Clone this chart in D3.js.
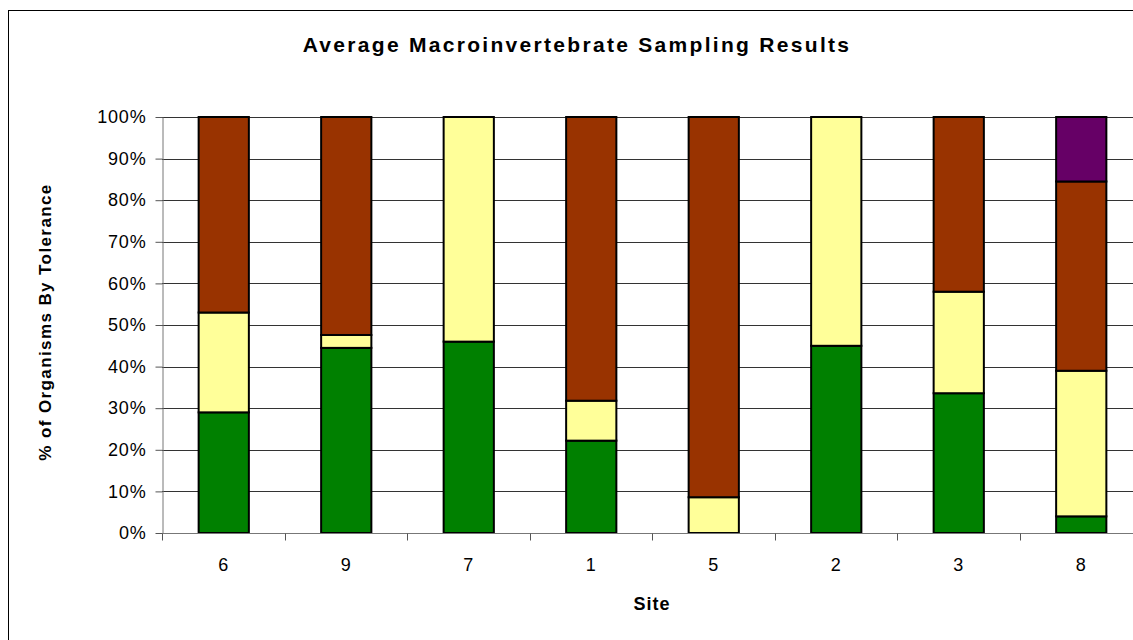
<!DOCTYPE html>
<html>
<head>
<meta charset="utf-8">
<script src="https://cdn.jsdelivr.net/npm/d3@7"></script>
<style>
  body { margin: 0; background: #fff; overflow: hidden; }
  svg { display: block; font-family: "Liberation Sans", Arial, sans-serif; }
</style>
</head>
<body>
<div id="chart"></div>
<script>
// sites, in the order shown
const sites = ["6", "9", "7", "1", "5", "2", "3", "8"];

// percentage of organisms per tolerance group
const intolerant = [29, 44.5, 46, 22.2, 0, 45, 33.6, 4];
const facultative = [24, 3.1, 54, 9.6, 8.6, 55, 24.4, 35];
const tolerant = [47, 52.4, 0, 68.2, 91.4, 0, 42, 45.5];
const veryTolerant = [0, 0, 0, 0, 0, 0, 0, 15.5];

const yTicks = [0, 10, 20, 30, 40, 50, 60, 70, 80, 90, 100];

const seriesNames = ["intolerant", "facultative", "tolerant", "veryTolerant"];
const seriesColors = ["#008000", "#FFFF99", "#993300", "#660066"];

// build the table the stack wants
const rows = sites.map((s, i) => ({
  site: s,
  intolerant: intolerant[i],
  facultative: facultative[i],
  tolerant: tolerant[i],
  veryTolerant: veryTolerant[i]
}));

const W = 1133, H = 640;
// the plot runs a little past the right edge of the picture
const margin = {top: 117, right: -9, bottom: 107, left: 162};
const width = W - margin.left - margin.right;
const height = H - margin.top - margin.bottom;

const svg = d3.select("#chart").append("svg")
  .attr("width", W)
  .attr("height", H);

// chart outline
svg.append("rect")
  .attr("x", 8.5).attr("y", 10.5)
  .attr("width", W).attr("height", H)
  .attr("fill", "none")
  .attr("stroke", "#000")
  .attr("stroke-width", 1);

const g = svg.append("g").attr("transform", `translate(${margin.left},${margin.top})`);

const x = d3.scaleBand().domain(sites).range([0, width]).paddingInner(0.59).paddingOuter(0.295);
const xTick = d3.scaleBand().domain(sites).range([0, width]);
const y = d3.scaleLinear().domain([0, 100]).range([height, 0]);

// gridlines
g.append("g")
  .selectAll("line")
  .data(yTicks.filter(d => d > 0))
  .join("line")
  .attr("x1", 0).attr("x2", width)
  .attr("y1", d => Math.round(y(d)) + 0.5)
  .attr("y2", d => Math.round(y(d)) + 0.5)
  .attr("stroke", "#333")
  .attr("stroke-width", 1);

// stacked bars
const stack = d3.stack().keys(seriesNames);
const layers = stack(rows);

g.append("g")
  .selectAll("g")
  .data(layers)
  .join("g")
  .attr("fill", (d, i) => seriesColors[i])
  .selectAll("rect")
  .data(d => d.filter(v => v[1] - v[0] > 0))
  .join("rect")
  .attr("x", d => x(d.data.site) + 0.5)
  .attr("y", d => y(d[1]))
  .attr("width", x.bandwidth())
  .attr("height", d => y(d[0]) - y(d[1]))
  .attr("stroke", "#000")
  .attr("stroke-width", 2);

// y axis
const yAxis = g.append("g")
  .attr("transform", "translate(0.5,0)")
  .call(d3.axisLeft(y).tickValues(yTicks).tickFormat(d => d + "%").tickSize(7).tickSizeOuter(0));
yAxis.select(".domain").attr("stroke", "#777");
yAxis.selectAll(".tick line").attr("stroke", "#555");
yAxis.selectAll("text")
  .attr("font-size", 18)
  .attr("letter-spacing", 0.8)
  .attr("fill", "#000")
  .attr("dx", "-6")
  .attr("font-family", "Liberation Sans, Arial, sans-serif");

// x axis: ticks sit between the sites
const xAxisG = g.append("g").attr("transform", `translate(0,${height + 0.5})`);
xAxisG.append("line")
  .attr("x1", 0).attr("x2", width)
  .attr("stroke", "#777");
xAxisG.selectAll("line.tk")
  .data(sites.map(s => xTick(s)).concat([width]))
  .join("line")
  .attr("class", "tk")
  .attr("x1", d => Math.round(d) + 0.5).attr("x2", d => Math.round(d) + 0.5)
  .attr("y1", 0).attr("y2", 7)
  .attr("stroke", "#555");
xAxisG.selectAll("text")
  .data(sites)
  .join("text")
  .attr("x", d => x(d) + x.bandwidth() / 2)
  .attr("y", 37)
  .attr("text-anchor", "middle")
  .attr("font-size", 18)
  .text(d => d);

// title and axis labels
svg.append("text")
  .attr("x", 577).attr("y", 52)
  .attr("text-anchor", "middle")
  .attr("font-size", 21).attr("font-weight", "bold")
  .attr("letter-spacing", 2.3)
  .text("Average Macroinvertebrate Sampling Results");

svg.append("text")
  .attr("x", 652).attr("y", 610)
  .attr("text-anchor", "middle")
  .attr("font-size", 18).attr("font-weight", "bold")
  .attr("letter-spacing", 1)
  .text("Site");

svg.append("text")
  .attr("transform", `translate(51,${margin.top + height / 2 - 3}) rotate(-90)`)
  .attr("text-anchor", "middle")
  .attr("font-size", 17).attr("font-weight", "bold")
  .attr("letter-spacing", 1.4)
  .text("% of Organisms By Tolerance");
</script>
</body>
</html>
